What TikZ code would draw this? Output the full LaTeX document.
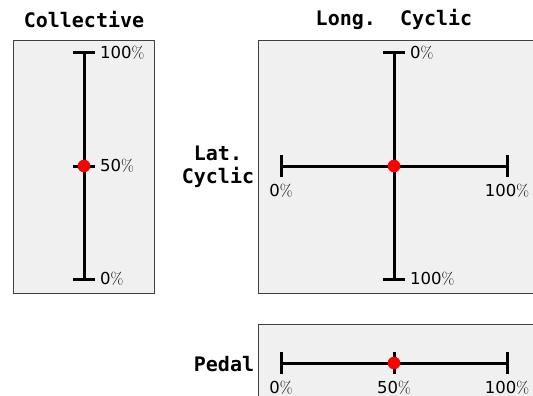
\documentclass[tikz,border=0pt]{standalone}
\usepackage{fontspec}
\newfontfamily\digitfont{DejaVu Sans}
\newfontfamily\titlefont{DejaVu Sans Mono}
\begin{document}
\begin{tikzpicture}[x=1pt,y=-1pt,
  panel/.style={draw=black!75,line width=0.9pt,fill=black!6},
  axisline/.style={line width=3pt,black},
  tickmark/.style={line width=3pt,black},
  knob/.style={circle,fill=red,inner sep=0pt,minimum size=12.6pt},
  pct/.style={inner sep=0pt,font=\fontsize{16.5}{18}\selectfont},
  heading/.style={inner sep=0pt,anchor=base,font=\titlefont\bfseries\fontsize{20}{22}\selectfont}]
\useasboundingbox (0,0) rectangle (533,396);
\begin{scope}
\clip (0,0) rectangle (533,396);
% panels
\draw[panel] (13,40) rectangle (154,293);
\draw[panel] (258,40) rectangle (545,293);
\draw[panel] (258,324) rectangle (545,410);

% headings
\node[heading] (tcoll) at (84,28) {Collective};
\node[heading] (tlong) at (394,26) {Long.\ \ Cyclic};
\node[heading] (tlat1) at (218,160) {Lat.};
\node[heading] (tlat2) at (218,183) {Cyclic};
\node[heading] (tped) at (224,371) {Pedal};

% collective axis
\coordinate (c0) at (84,53);
\coordinate (c1) at (84,279);
\coordinate (cm) at (84,166);
\draw[axisline] (c0) -- (c1);
\foreach \p in {c0,cm,c1}
  \draw[tickmark] ([xshift=-11pt]\p) -- ([xshift=11pt]\p);
\node[pct,anchor=west] (lc0) at ([xshift=16pt]c0) {{\digitfont 100}\%};
\node[pct,anchor=west] (lcm) at ([xshift=16pt]cm) {{\digitfont 50}\%};
\node[pct,anchor=west] (lc1) at ([xshift=16pt]c1) {{\digitfont 0}\%};
\node[knob] (kc) at (cm) {};

% cyclic cross
\coordinate (v0) at (394,53);
\coordinate (v1) at (394,279);
\coordinate (h0) at (281,166);
\coordinate (h1) at (507,166);
\draw[axisline] (v0) -- (v1);
\draw[axisline] (h0) -- (h1);
\foreach \p in {v0,v1}
  \draw[tickmark] ([xshift=-11pt]\p) -- ([xshift=11pt]\p);
\foreach \p in {h0,h1}
  \draw[tickmark] ([yshift=-11pt]\p) -- ([yshift=11pt]\p);
\node[pct,anchor=north] (lh0) at ([yshift=-18pt]h0) {{\digitfont 0}\%};
\node[pct,anchor=north] (lh1) at ([yshift=-18pt]h1) {{\digitfont 100}\%};
\node[pct,anchor=west] (lv0) at ([xshift=16pt]v0) {{\digitfont 0}\%};
\node[pct,anchor=west] (lv1) at ([xshift=16pt]v1) {{\digitfont 100}\%};
\node[knob] (kx) at (394,166) {};

% pedal axis
\coordinate (p0) at (281,363);
\coordinate (pm) at (394,363);
\coordinate (p1) at (507,363);
\draw[axisline] (p0) -- (p1);
\foreach \p in {p0,pm,p1}
  \draw[tickmark] ([yshift=-11pt]\p) -- ([yshift=11pt]\p);
\node[pct,anchor=north] (lp0) at ([yshift=-18pt]p0) {{\digitfont 0}\%};
\node[pct,anchor=north] (lpm) at ([yshift=-18pt]pm) {{\digitfont 50}\%};
\node[pct,anchor=north] (lp1) at ([yshift=-18pt]p1) {{\digitfont 100}\%};
\node[knob] (kp) at (pm) {};
\end{scope}
\end{tikzpicture}
\end{document}
